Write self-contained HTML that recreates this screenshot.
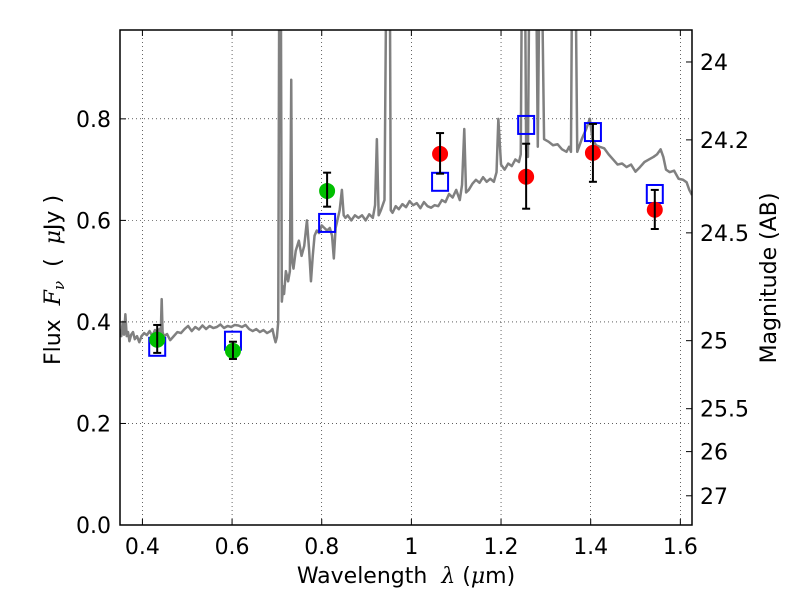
<!DOCTYPE html>
<html><head><meta charset="utf-8"><style>
body{margin:0;background:#fff}
svg{display:block;font-family:"DejaVu Sans","Liberation Sans",sans-serif}
</style></head><body>
<svg id="chart" width="800" height="600" xmlns="http://www.w3.org/2000/svg"></svg>
<script>
const specX=[0.350,0.353,0.356,0.359,0.362,0.365,0.368,0.371,0.375,0.379,0.383,0.388,0.393,0.398,0.404,0.410,0.416,0.422,0.428,0.433,0.438,0.441,0.443,0.445,0.448,0.455,0.462,0.470,0.478,0.486,0.494,0.502,0.510,0.518,0.526,0.534,0.542,0.550,0.558,0.566,0.574,0.582,0.590,0.598,0.606,0.614,0.622,0.630,0.638,0.646,0.654,0.662,0.670,0.678,0.686,0.690,0.694,0.697,0.700,0.703,0.706,0.708,0.711,0.714,0.716,0.720,0.725,0.729,0.732,0.734,0.737,0.742,0.749,0.755,0.761,0.767,0.772,0.776,0.780,0.784,0.789,0.794,0.800,0.806,0.812,0.818,0.823,0.827,0.831,0.835,0.840,0.845,0.849,0.853,0.858,0.866,0.874,0.882,0.890,0.898,0.906,0.914,0.919,0.923,0.927,0.932,0.940,0.946,0.951,0.954,0.958,0.965,0.972,0.980,0.988,0.996,1.004,1.012,1.020,1.028,1.036,1.044,1.052,1.060,1.068,1.076,1.084,1.092,1.100,1.108,1.113,1.118,1.122,1.128,1.136,1.144,1.152,1.160,1.168,1.176,1.184,1.190,1.194,1.200,1.208,1.216,1.224,1.232,1.240,1.244,1.248,1.252,1.256,1.260,1.265,1.270,1.276,1.282,1.288,1.296,1.306,1.316,1.326,1.336,1.346,1.352,1.356,1.360,1.364,1.370,1.380,1.390,1.398,1.404,1.412,1.420,1.430,1.440,1.450,1.460,1.470,1.480,1.490,1.500,1.510,1.520,1.530,1.540,1.548,1.556,1.562,1.568,1.576,1.586,1.596,1.606,1.614,1.620,1.626];
const specY=[0.385,0.372,0.40,0.375,0.415,0.372,0.38,0.362,0.375,0.38,0.366,0.372,0.36,0.372,0.378,0.374,0.382,0.372,0.384,0.378,0.386,0.38,0.445,0.38,0.372,0.376,0.364,0.372,0.38,0.378,0.386,0.392,0.382,0.39,0.385,0.393,0.386,0.392,0.388,0.39,0.395,0.388,0.392,0.39,0.394,0.393,0.39,0.394,0.386,0.382,0.386,0.38,0.384,0.378,0.382,0.386,0.37,0.36,0.37,0.40,1.3,1.3,0.44,0.47,0.455,0.50,0.48,0.50,0.877,0.52,0.505,0.54,0.56,0.53,0.55,0.60,0.54,0.48,0.53,0.57,0.58,0.575,0.59,0.585,0.58,0.585,0.57,0.525,0.585,0.60,0.62,0.66,0.61,0.605,0.61,0.60,0.61,0.605,0.61,0.60,0.612,0.605,0.63,0.76,0.61,0.62,0.64,1.3,1.3,0.62,0.615,0.628,0.622,0.632,0.626,0.638,0.63,0.634,0.624,0.636,0.628,0.625,0.63,0.628,0.64,0.636,0.652,0.645,0.66,0.64,0.67,0.78,0.655,0.66,0.672,0.68,0.674,0.685,0.676,0.682,0.676,0.695,0.80,0.71,0.70,0.712,0.707,0.72,0.715,0.73,1.3,1.3,0.74,0.725,1.3,1.3,1.3,0.745,1.3,0.76,0.755,0.748,0.75,0.74,0.735,0.745,0.735,1.3,1.3,0.735,0.76,0.78,0.80,0.76,0.748,0.745,0.742,0.73,0.72,0.71,0.712,0.705,0.71,0.696,0.705,0.715,0.72,0.725,0.73,0.74,0.725,0.70,0.695,0.698,0.682,0.68,0.675,0.66,0.65];
const greenX=[0.433,0.602,0.812];
const greenY=[0.365,0.343,0.658];
const greenLo=[0.339,0.327,0.627];
const greenHi=[0.394,0.361,0.694];
const redX=[1.064,1.256,1.405,1.543];
const redY=[0.731,0.686,0.733,0.621];
const redLo=[0.692,0.623,0.676,0.583];
const redHi=[0.772,0.751,0.790,0.660];
const sqX=[0.433,0.602,0.812,1.064,1.256,1.405,1.543];
const sqY=[0.351,0.363,0.595,0.676,0.788,0.774,0.652];
const xTicks=[0.4,0.6,0.8,1.0,1.2,1.4,1.6];
const xTickLabels=["0.4","0.6","0.8","1","1.2","1.4","1.6"];
const yTicks=[0,0.2,0.4,0.6,0.8];
const yTickLabels=["0.0","0.2","0.4","0.6","0.8"];
const magTicks=[24,24.2,24.5,25,25.5,26,27];
const magLabels=["24","24.2","24.5","25","25.5","26","27"];

const L=120,R=692,T=30,B=525,XMIN=0.350,XMAX=1.626,YMIN=0,YMAX=0.975;
const sx=v=>L+(v-XMIN)/(XMAX-XMIN)*(R-L);
const sy=v=>B-(v-YMIN)/(YMAX-YMIN)*(B-T);
const NS="http://www.w3.org/2000/svg";
const svg=document.getElementById('chart');
function mk(tag,attrs,parent){const e=document.createElementNS(NS,tag);for(const k in attrs)e.setAttribute(k,attrs[k]);(parent||svg).appendChild(e);return e;}
const defs=mk('defs',{});
const cp=mk('clipPath',{id:'clip'},defs);mk('rect',{x:L,y:T,width:R-L,height:B-T},cp);

xTicks.forEach(v=>{const g=mk('line',{x1:sx(v),x2:sx(v),y1:T,y2:B,stroke:'#000','stroke-width':0.6,'stroke-dasharray':'1,3'});

});
yTicks.forEach(v=>{const g=mk('line',{x1:L,x2:R,y1:sy(v),y2:sy(v),stroke:'#000','stroke-width':0.6,'stroke-dasharray':'1,3'});

});

const gp=mk('g',{'clip-path':'url(#clip)'});
const sp=mk('polyline',{points:specX.map((x,i)=>sx(x)+','+sy(specY[i])).join(' '),fill:'none',stroke:'#808080','stroke-width':2.5,'stroke-linejoin':'round'},gp);



sqX.forEach((x,i)=>{const s=mk('rect',{x:sx(x)-8,y:sy(sqY[i])-9,width:16,height:18,fill:'none',stroke:'#0000ff','stroke-width':2},gp);

});

function pts(X,Y,Lo,Hi,col,name){X.forEach((x,i)=>{
const c=mk('circle',{cx:sx(x),cy:sy(Y[i]),r:8,fill:col},gp);


const g=mk('g',{stroke:'#000','stroke-width':2},gp);


mk('line',{x1:sx(x),x2:sx(x),y1:sy(Lo[i]),y2:sy(Hi[i])},g);
mk('line',{x1:sx(x)-4,x2:sx(x)+4,y1:sy(Lo[i]),y2:sy(Lo[i])},g);
mk('line',{x1:sx(x)-4,x2:sx(x)+4,y1:sy(Hi[i]),y2:sy(Hi[i])},g);});}
pts(greenX,greenY,greenLo,greenHi,'#00bf00','optical-data-point');
pts(redX,redY,redLo,redHi,'#ff0000','nir-data-point');

const fr=mk('rect',{x:L,y:T,width:R-L,height:B-T,fill:'none',stroke:'#000','stroke-width':1.5});



xTicks.forEach((v,i)=>{mk('line',{x1:sx(v),x2:sx(v),y1:B,y2:B-6,stroke:'#000'});mk('line',{x1:sx(v),x2:sx(v),y1:T,y2:T+6,stroke:'#000'});
const t=mk('text',{x:sx(v),y:B+29,'font-size':22,'text-anchor':'middle'});t.textContent=xTickLabels[i];

});
yTicks.forEach((v,i)=>{mk('line',{x1:L,x2:L+6,y1:sy(v),y2:sy(v),stroke:'#000'});
const t=mk('text',{x:L-9,y:sy(v)+8,'font-size':22,'text-anchor':'end'});t.textContent=yTickLabels[i];

});
magTicks.forEach((m,i)=>{const f=Math.pow(10,(23.9-m)/2.5);const y=sy(f);
mk('line',{x1:R,x2:R-6,y1:y,y2:y,stroke:'#000'});
const t=mk('text',{x:R+8,y:y+8,'font-size':22});t.textContent=magLabels[i];

});
</script>
<svg style="position:absolute;left:0;top:0" width="800" height="600" xmlns="http://www.w3.org/2000/svg" font-family="DejaVu Sans, Liberation Sans, sans-serif">
<text x="406" y="583" font-size="22" text-anchor="middle" xml:space="preserve">Wavelength  <tspan font-family="DejaVu Serif, Liberation Serif, serif" font-style="italic">λ</tspan> (<tspan font-family="DejaVu Serif, Liberation Serif, serif" font-style="italic">μ</tspan>m)</text>
<text transform="translate(60,280) rotate(-90)" font-size="22" text-anchor="middle" xml:space="preserve">Flux  <tspan font-family="DejaVu Serif, Liberation Serif, serif" font-style="italic">F<tspan font-size="15" dy="4">ν</tspan></tspan><tspan dy="-4">  (  </tspan><tspan font-family="DejaVu Serif, Liberation Serif, serif" font-style="italic">μ</tspan>Jy )</text>
<text transform="translate(776,278) rotate(-90)" font-size="22" text-anchor="middle">Magnitude (AB)</text>
</svg>
</body></html>
